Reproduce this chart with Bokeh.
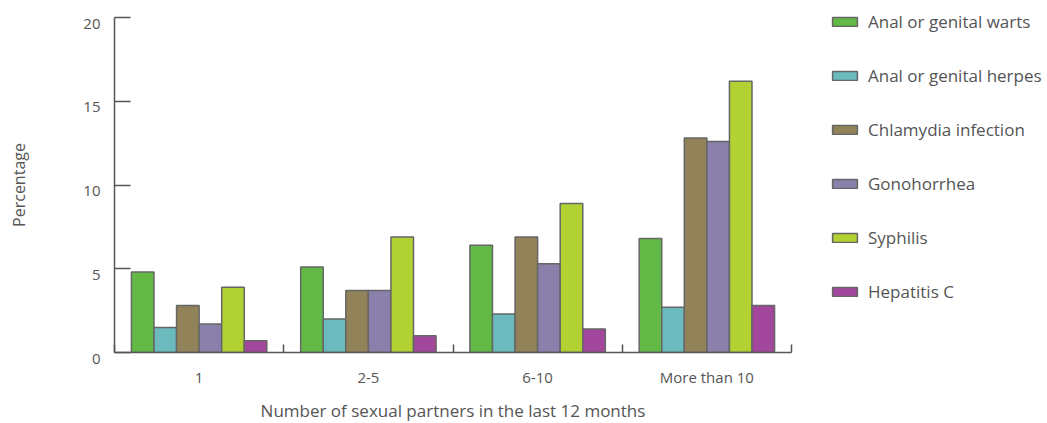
import numpy as np
from bokeh.plotting import figure
from bokeh.models import FixedTicker, Range1d, Legend, LegendItem, ColumnDataSource
from bokeh.embed import file_html
from bokeh.resources import INLINE

categories = ["1", "2-5", "6-10", "More than 10"]
series_names = ["Anal or genital warts", "Anal or genital herpes", "Chlamydia infection",
                "Gonohorrhea", "Syphilis", "Hepatitis C"]
warts = [4.8, 5.1, 6.4, 6.8]
herpes = [1.5, 2.0, 2.3, 2.7]
chlamydia = [2.8, 3.7, 6.9, 12.8]
gonorrhea = [1.7, 3.7, 5.3, 12.6]
syphilis = [3.9, 6.9, 8.9, 16.2]
hepatitis_c = [0.7, 1.0, 1.4, 2.8]
colors = ["#62b946", "#6bbabd", "#918259", "#8a80ab", "#b2d234", "#a2479b"]
y_ticks = [0, 5, 10, 15, 20]
y_tick_labels = ["0", "5", "10", "15", "20"]

values = [warts, herpes, chlamydia, gonorrhea, syphilis, hepatitis_c]

FONT = "Open Sans"
TXT = "#555555"

p = figure(frame_width=677, frame_height=335, min_border_left=114, min_border_top=17,
           min_border_right=240, min_border_bottom=5,
           output_backend="svg", toolbar_location=None,
           x_range=Range1d(0, 4), y_range=Range1d(0, 20))
p.outline_line_color = None
p.xgrid.grid_line_color = None
p.ygrid.grid_line_color = None

n = len(values)
bw = 0.8 / n
centers = np.arange(len(categories)) + 0.5
items = []
for j, (vals, name, col) in enumerate(zip(values, series_names, colors)):
    src = ColumnDataSource(dict(x=centers + (j - (n - 1) / 2) * bw, top=vals))
    r = p.vbar(x="x", top="top", bottom=0, width=bw, source=src,
               fill_color=col, line_color="#666666", line_width=1.5)
    items.append(LegendItem(label=name, renderers=[r]))

# x axis
xa = p.xaxis[0]
xa.ticker = FixedTicker(ticks=list(centers), minor_ticks=list(range(len(categories) + 1)))
xa.major_label_overrides = {float(c): lab for c, lab in zip(centers, categories)}
xa.major_tick_in = 0
xa.major_tick_out = 0
xa.minor_tick_in = 8
xa.minor_tick_out = 0
xa.minor_tick_line_color = "#555555"
xa.minor_tick_line_width = 1.5
xa.axis_line_color = "#555555"
xa.axis_line_width = 1.5
xa.major_label_standoff = 14
xa.major_label_text_font = FONT
xa.major_label_text_font_size = "15px"
xa.major_label_text_color = TXT
xa.axis_label = "Number of sexual partners in the last 12 months"
xa.axis_label_text_font = FONT
xa.axis_label_text_font_size = "17px"
xa.axis_label_text_font_style = "normal"
xa.axis_label_text_color = TXT
xa.axis_label_standoff = 9

# y axis: labels sit a little below their ticks (leading empty line, tight line height)
ya = p.yaxis[0]
ya.ticker = FixedTicker(ticks=y_ticks, minor_ticks=[])
ya.major_label_overrides = {t: "\n" + lab for t, lab in zip(y_ticks, y_tick_labels)}
ya.major_label_text_line_height = 0.5
ya.major_tick_in = 16
ya.major_tick_out = 0
ya.major_tick_line_color = "#555555"
ya.major_tick_line_width = 1.5
ya.axis_line_color = "#555555"
ya.axis_line_width = 1.5
ya.major_label_standoff = 14
ya.major_label_text_font = FONT
ya.major_label_text_font_size = "15px"
ya.major_label_text_color = TXT
ya.axis_label = "Percentage"
ya.axis_label_text_font = FONT
ya.axis_label_text_font_size = "16px"
ya.axis_label_text_font_style = "normal"
ya.axis_label_text_color = TXT
ya.axis_label_standoff = 50

legend = Legend(items=items, location=(38, 49))
legend.border_line_color = None
legend.background_fill_alpha = 0
legend.padding = 0
legend.margin = 0
legend.glyph_width = 31
legend.glyph_height = 11
legend.label_height = 20
legend.spacing = 31
legend.label_standoff = 8
legend.label_text_font = FONT
legend.label_text_font_size = "17px"
legend.label_text_color = TXT
p.add_layout(legend, "right")

open("out.html", "w").write(file_html(p, INLINE))
